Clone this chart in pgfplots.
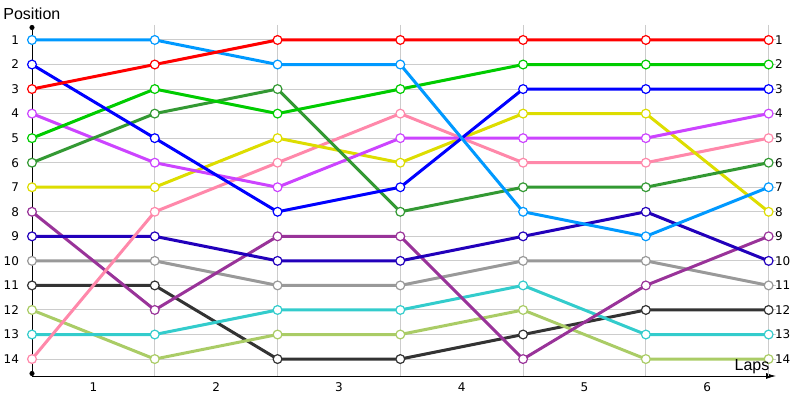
\documentclass[border=0pt]{standalone}
\usepackage{pgfplots}
\pgfplotsset{compat=1.18}
\usepackage{fontspec}
\setmainfont{DejaVu Sans}
\newfontfamily\titlefont{Liberation Sans}
\usetikzlibrary{arrows.meta}
\definecolor{cLB}{HTML}{0099FF}
\definecolor{cRed}{HTML}{FF0000}
\definecolor{cBlue}{HTML}{0000FF}
\definecolor{cGreen}{HTML}{00CC00}
\definecolor{cDG}{HTML}{339933}
\definecolor{cVio}{HTML}{CC44FF}
\definecolor{cYel}{HTML}{DDDD00}
\definecolor{cPink}{HTML}{FF88AA}
\definecolor{cPur}{HTML}{993399}
\definecolor{cNavy}{HTML}{2200BB}
\definecolor{cGray}{HTML}{999999}
\definecolor{cBlack}{HTML}{333333}
\definecolor{cYG}{HTML}{AACC66}
\definecolor{cCyan}{HTML}{33CCCC}
\definecolor{gridgray}{HTML}{CCCCCC}
\begin{document}
\begin{tikzpicture}
\begin{axis}[
  scale only axis, width=372pt, height=175.5pt,
  xmin=0, xmax=6.06, ymin=0.39, ymax=14.69, y dir=reverse,
  axis x line=bottom, axis y line=left,
  x axis line style={-{Latex[length=5pt,width=3pt]}},
  y axis line style={{Circle[length=2.5pt]}-{Circle[length=2.5pt]}},
  ytick={1,...,14},
  xtick={0.5,1.5,2.5,3.5,4.5,5.5}, xticklabels={1,2,3,4,5,6},
  extra x ticks={1,2,3,4,5,6}, extra x tick labels={},
  extra x tick style={grid=major},
  ymajorgrids,
  major grid style={draw=gridgray, line width=0.5pt},
  major tick length=0,
  tick label style={font=\fontsize{6}{7}\selectfont},
  yticklabel style={xshift=-3pt},
  /pgf/number format/assume math mode=true,
  clip=false,
  every axis plot/.append style={line width=1.5pt, mark=*, mark size=2.2pt,
     mark options={fill=white, line width=0.6pt, solid}},
]
\addplot[cBlack] coordinates {(0,11)(1,11)(2,14)(3,14)(4,13)(5,12)(6,12)};
\addplot[cYG] coordinates {(0,12)(1,14)(2,13)(3,13)(4,12)(5,14)(6,14)};
\addplot[cCyan] coordinates {(0,13)(1,13)(2,12)(3,12)(4,11)(5,13)(6,13)};
\addplot[cGray] coordinates {(0,10)(1,10)(2,11)(3,11)(4,10)(5,10)(6,11)};
\addplot[cPur] coordinates {(0,8)(1,12)(2,9)(3,9)(4,14)(5,11)(6,9)};
\addplot[cNavy] coordinates {(0,9)(1,9)(2,10)(3,10)(4,9)(5,8)(6,10)};
\addplot[cPink] coordinates {(0,14)(1,8)(2,6)(3,4)(4,6)(5,6)(6,5)};
\addplot[cYel] coordinates {(0,7)(1,7)(2,5)(3,6)(4,4)(5,4)(6,8)};
\addplot[cVio] coordinates {(0,4)(1,6)(2,7)(3,5)(4,5)(5,5)(6,4)};
\addplot[cDG] coordinates {(0,6)(1,4)(2,3)(3,8)(4,7)(5,7)(6,6)};
\addplot[cGreen] coordinates {(0,5)(1,3)(2,4)(3,3)(4,2)(5,2)(6,2)};
\addplot[cBlue] coordinates {(0,2)(1,5)(2,8)(3,7)(4,3)(5,3)(6,3)};
\addplot[cLB] coordinates {(0,1)(1,1)(2,2)(3,2)(4,8)(5,9)(6,7)};
\addplot[cRed] coordinates {(0,3)(1,2)(2,1)(3,1)(4,1)(5,1)(6,1)};
\pgfplotsinvokeforeach{1,...,14}{
  \node[anchor=west, inner sep=0pt, font=\fontsize{6}{7}\selectfont] at (axis cs:6,#1) {\hspace{3pt}#1};
}
\coordinate (bl) at (axis cs:0,14.69);
\end{axis}
\node[anchor=west, inner sep=0pt, font=\titlefont\fontsize{8}{9}\selectfont] at ([xshift=-14.5pt,yshift=181pt]bl) {Position};
\node[inner sep=0pt, font=\titlefont\fontsize{8}{9}\selectfont] at ([xshift=360pt,yshift=4.5pt]bl) {Laps};
\pgfresetboundingbox
\path[use as bounding box] ([xshift=-16pt,yshift=-12pt]bl) rectangle ([xshift=384pt,yshift=188pt]bl);
\end{tikzpicture}
\end{document}
